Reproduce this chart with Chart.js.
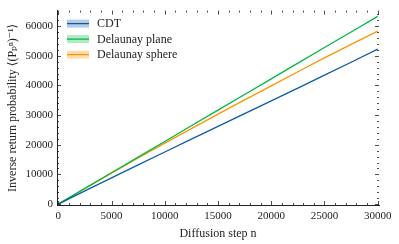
<!DOCTYPE html>
<html>
<head>
<meta charset="utf-8">
<script src="https://cdn.jsdelivr.net/npm/chart.js@4/dist/chart.umd.min.js"></script>
<style>
  html, body { margin: 0; padding: 0; background: #fff; }
  #wrap { width: 399px; height: 244px; }
</style>
</head>
<body>
<div id="wrap"><canvas id="myChart" width="399" height="244"></canvas></div>
<script>
// diffusion steps and inverse return probability
var steps = [0, 2500, 5000, 7500, 10000, 12500, 15000, 17500, 20000, 22500, 25000, 27500, 30000];
var cdt = [0, 4450, 8850, 13200, 17550, 21900, 26200, 30500, 34800, 39100, 43450, 47800, 52200];
var plane = [0, 5300, 10550, 15850, 21100, 26400, 31650, 36950, 42200, 47500, 52750, 58000, 63250];
var sphere = [0, 5250, 10450, 15550, 20550, 25450, 30300, 35100, 39850, 44600, 49250, 53800, 58300];
var names = ['CDT', 'Delaunay plane', 'Delaunay sphere'];
var colors = ['#0C5DA5', '#00B945', '#FF9500'];
var xTicks = [0, 5000, 10000, 15000, 20000, 25000, 30000];
var yTicks = [0, 10000, 20000, 30000, 40000, 50000, 60000];

var serif = "'Liberation Serif', 'DejaVu Serif', serif";
var ink = '#222';

function toPoints(ys) {
    return ys.map(function(v, i) { return {x: steps[i], y: v}; });
}

// inward ticks on all four sides, like the matplotlib figure
var inTicks = {
    id: 'inTicks',
    afterDraw: function(chart) {
        var ctx = chart.ctx, a = chart.chartArea;
        var x = chart.scales.x, y = chart.scales.y;
        ctx.save();
        ctx.strokeStyle = ink;
        ctx.lineWidth = 0.8;
        ctx.beginPath();
        for (var v = 0; v <= xTicks[xTicks.length - 1]; v += 1000) {
            var px = Math.round(x.getPixelForValue(v)) + 0.5;
            var len = xTicks.indexOf(v) >= 0 ? 4 : 2;
            ctx.moveTo(px, a.bottom); ctx.lineTo(px, a.bottom - len);
            ctx.moveTo(px, a.top); ctx.lineTo(px, a.top + len);
        }
        for (var w = 0; w <= 64000; w += 2000) {
            var py = Math.round(y.getPixelForValue(w)) + 0.5;
            var len2 = yTicks.indexOf(w) >= 0 ? 4 : 2;
            ctx.moveTo(a.left, py); ctx.lineTo(a.left + len2, py);
            ctx.moveTo(a.right, py); ctx.lineTo(a.right - len2, py);
        }
        ctx.stroke();
        ctx.restore();
    }
};

// legend with shaded band + line handles, top left inside the axes
var bandLegend = {
    id: 'bandLegend',
    afterDraw: function(chart) {
        var ctx = chart.ctx, a = chart.chartArea;
        ctx.save();
        ctx.font = '12px ' + serif;
        ctx.textBaseline = 'middle';
        chart.data.datasets.forEach(function(ds, i) {
            var cy = a.top + 13 + i * 15.5;
            var x0 = a.left + 10;
            ctx.globalAlpha = 0.3;
            ctx.fillStyle = ds.borderColor;
            ctx.fillRect(x0, cy - 4, 22, 8);
            ctx.globalAlpha = 1;
            ctx.strokeStyle = ds.borderColor;
            ctx.lineWidth = 1.3;
            ctx.beginPath();
            ctx.moveTo(x0, cy); ctx.lineTo(x0 + 22, cy);
            ctx.stroke();
            ctx.fillStyle = ink;
            ctx.fillText(ds.label, x0 + 30, cy + 0.5);
        });
        ctx.restore();
    }
};

var ctx = document.getElementById('myChart').getContext('2d');
var myChart = new Chart(ctx, {
    type: 'line',
    data: {
        datasets: [
            {label: names[0], data: toPoints(cdt), borderColor: colors[0]},
            {label: names[1], data: toPoints(plane), borderColor: colors[1]},
            {label: names[2], data: toPoints(sphere), borderColor: colors[2]}
        ]
    },
    options: {
        responsive: false,
        animation: false,
        layout: {padding: {top: 7, right: 20, left: 0, bottom: 0}},
        elements: {
            point: {radius: 0},
            line: {borderWidth: 1.3, tension: 0}
        },
        plugins: {
            legend: {display: false},
            tooltip: {enabled: false}
        },
        scales: {
            x: {
                type: 'linear',
                min: -120,
                max: 30120,
                afterBuildTicks: function(s) { s.ticks = xTicks.map(function(v) { return {value: v}; }); },
                afterFit: function(s) { s.height = 39; },
                grid: {display: false, drawTicks: false},
                border: {display: true, color: ink, width: 1},
                ticks: {
                    color: ink, padding: 5, maxRotation: 0,
                    font: {family: serif, size: 11},
                    callback: function(v) { return String(v); }
                },
                title: {
                    display: true, text: 'Diffusion step n', color: ink,
                    font: {family: serif, size: 12}, padding: {top: 0, bottom: 3}
                }
            },
            y: {
                type: 'linear',
                min: -300,
                max: 65200,
                afterBuildTicks: function(s) { s.ticks = yTicks.map(function(v) { return {value: v}; }); },
                afterFit: function(s) { s.width = 57; },
                grid: {display: false, drawTicks: false},
                border: {display: true, color: ink, width: 1},
                ticks: {
                    color: ink, padding: 4,
                    font: {family: serif, size: 11},
                    callback: function(v) { return String(v); }
                },
                title: {
                    display: true, text: 'Inverse return probability \u27E8(P\u209A\u207F)\u207B\u00B9\u27E9', color: ink,
                    font: {family: serif, size: 12}, padding: {top: 6, bottom: 0}
                }
            }
        }
    },
    plugins: [inTicks, bandLegend]
});
</script>
</body>
</html>
